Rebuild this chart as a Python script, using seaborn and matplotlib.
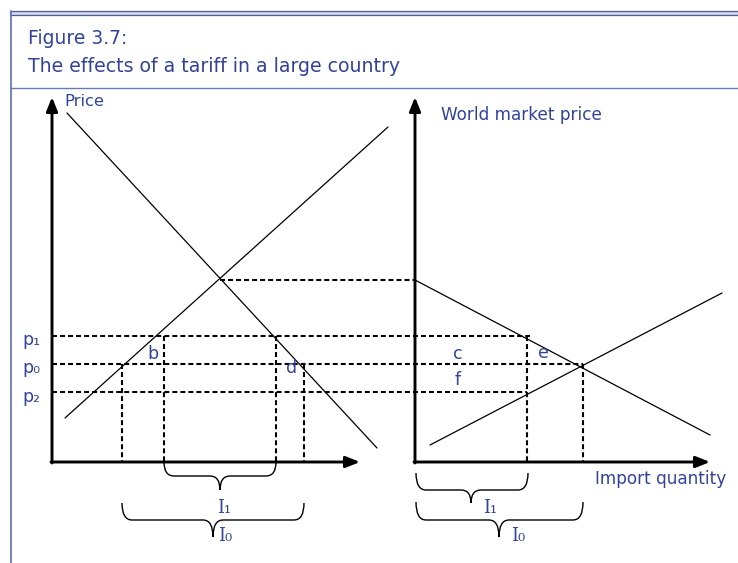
import matplotlib
matplotlib.use("Agg")
import matplotlib.pyplot as plt
import seaborn as sns
import pandas as pd
from matplotlib.path import Path
from matplotlib.patches import PathPatch, Rectangle

sns.set_theme(style="white")
plt.rcParams['font.family'] = ['DejaVu Sans']

# ---- diagram data (pixel space of the 738x563 figure, y downward) ----
# curves: name, x0, y0, x1, y1
curve_names = ["dom_supply", "dom_demand", "import_demand", "export_supply"]
curve_x0 = [65, 67, 415, 430]
curve_y0 = [418, 113, 280, 445]
curve_x1 = [388, 377, 710, 722]
curve_y1 = [127, 448, 435, 293]

# dashed guides
dash_x0 = [220, 52, 52, 52, 122, 164, 276, 304, 527, 583]
dash_y0 = [280, 336, 364, 392, 364, 336, 336, 364, 336, 364]
dash_x1 = [415, 530, 583, 527, 122, 164, 276, 304, 527, 583]
dash_y1 = [280, 336, 364, 392, 462, 462, 462, 462, 462, 462]

# axes (origin x, origin y, x end, y end)
axis_ox = [52, 415]
axis_oy = [462, 462]
axis_xend = [360, 710]
axis_ytop = [97, 97]

# braces: left x, right x, top y, mid y, tip y, tip x
brace_xa = [164, 122, 416, 416]
brace_xb = [276, 304, 528, 583]
brace_y0 = [462, 503, 473, 502]
brace_y1 = [476, 520, 490, 520]
brace_y2 = [490, 537, 503, 537]
brace_xm = [220, 213, 471, 499]
brace_labels = ["I₁", "I₀", "I₁", "I₀"]
brace_lx = [224, 225, 490, 518]
brace_ly = [508, 536, 508, 536]

price_labels = ["p₁", "p₀", "p₂"]
price_ly = [340, 368, 397]
area_labels = ["b", "d", "c", "e", "f"]
area_lx = [153, 292, 458, 543, 458]
area_ly = [354, 368, 354, 353, 380]

TXT = "#33439A"
FRAME = "#6B79B8"

fig = plt.figure(figsize=(7.38, 5.63), dpi=100)
ax = fig.add_axes([0, 0, 1, 1])
ax.set_xlim(0, 738)
ax.set_ylim(563, 0)
ax.axis("off")

# frame
ax.add_patch(Rectangle((10, 10.5), 740, 4.5, facecolor="#D3D7E8",
                       edgecolor="#4D5A9C", lw=0.9))
ax.plot([10, 738], [88, 88], color=FRAME, lw=1.0)
ax.plot([10.5, 10.5], [10.5, 563], color=FRAME, lw=1.3)

ax.text(28, 38, "Figure 3.7:", color=TXT, fontsize=13.5, va="center", ha="left")
ax.text(28, 67, "The effects of a tariff in a large country", color=TXT,
        fontsize=13.6, va="center", ha="left")

# curves via seaborn
for i in range(len(curve_names)):
    d = pd.DataFrame({"x": [curve_x0[i], curve_x1[i]], "y": [curve_y0[i], curve_y1[i]]})
    sns.lineplot(data=d, x="x", y="y", ax=ax, color="black", lw=0.9,
                 sort=False, estimator=None)

for i in range(len(dash_x0)):
    d = pd.DataFrame({"x": [dash_x0[i], dash_x1[i]], "y": [dash_y0[i], dash_y1[i]]})
    sns.lineplot(data=d, x="x", y="y", ax=ax, color="black", lw=1.5,
                 linestyle=(0, (2.4, 1.45)), sort=False, estimator=None)

# axes with arrows
style = "-|>,head_length=0.7,head_width=0.28"
for i in range(2):
    ax.annotate("", xy=(axis_xend[i], axis_oy[i]), xytext=(axis_ox[i] - 1, axis_oy[i]),
                arrowprops=dict(arrowstyle=style, color="black", lw=2.1,
                                shrinkA=0, shrinkB=0))
    ax.annotate("", xy=(axis_ox[i], axis_ytop[i]), xytext=(axis_ox[i], axis_oy[i] + 1),
                arrowprops=dict(arrowstyle=style, color="black", lw=2.1,
                                shrinkA=0, shrinkB=0))

# braces
for i in range(len(brace_xa)):
    xa, xb, y0, y1, y2, xm = brace_xa[i], brace_xb[i], brace_y0[i], brace_y1[i], brace_y2[i], brace_xm[i]
    r = 10
    verts = [(xa, y0), (xa, y1), (xa + r, y1),
             (xm - r, y1),
             (xm, y1), (xm, y2),
             (xm, y1), (xm + r, y1),
             (xb - r, y1),
             (xb, y1), (xb, y0)]
    codes = [Path.MOVETO, Path.CURVE3, Path.CURVE3,
             Path.LINETO,
             Path.CURVE3, Path.CURVE3,
             Path.CURVE3, Path.CURVE3,
             Path.LINETO,
             Path.CURVE3, Path.CURVE3]
    ax.add_patch(PathPatch(Path(verts, codes), fill=False, ec="black", lw=1.0))
    ax.text(brace_lx[i], brace_ly[i], brace_labels[i], color=TXT, fontsize=13,
            family=["DejaVu Serif"], ha="center", va="center")

for lab, y in zip(price_labels, price_ly):
    ax.text(22, y, lab, color=TXT, fontsize=12.5, ha="left", va="center")
for lab, x, y in zip(area_labels, area_lx, area_ly):
    ax.text(x, y, lab, color=TXT, fontsize=12.5, ha="center", va="center")

ax.text(64, 101, "Price", color=TXT, fontsize=11.8, ha="left", va="center")
ax.text(441, 115, "World market price", color=TXT, fontsize=12.2, ha="left", va="center")
ax.text(595, 479, "Import quantity", color=TXT, fontsize=12.2, ha="left", va="center")

fig.savefig("out.png", dpi=100)
